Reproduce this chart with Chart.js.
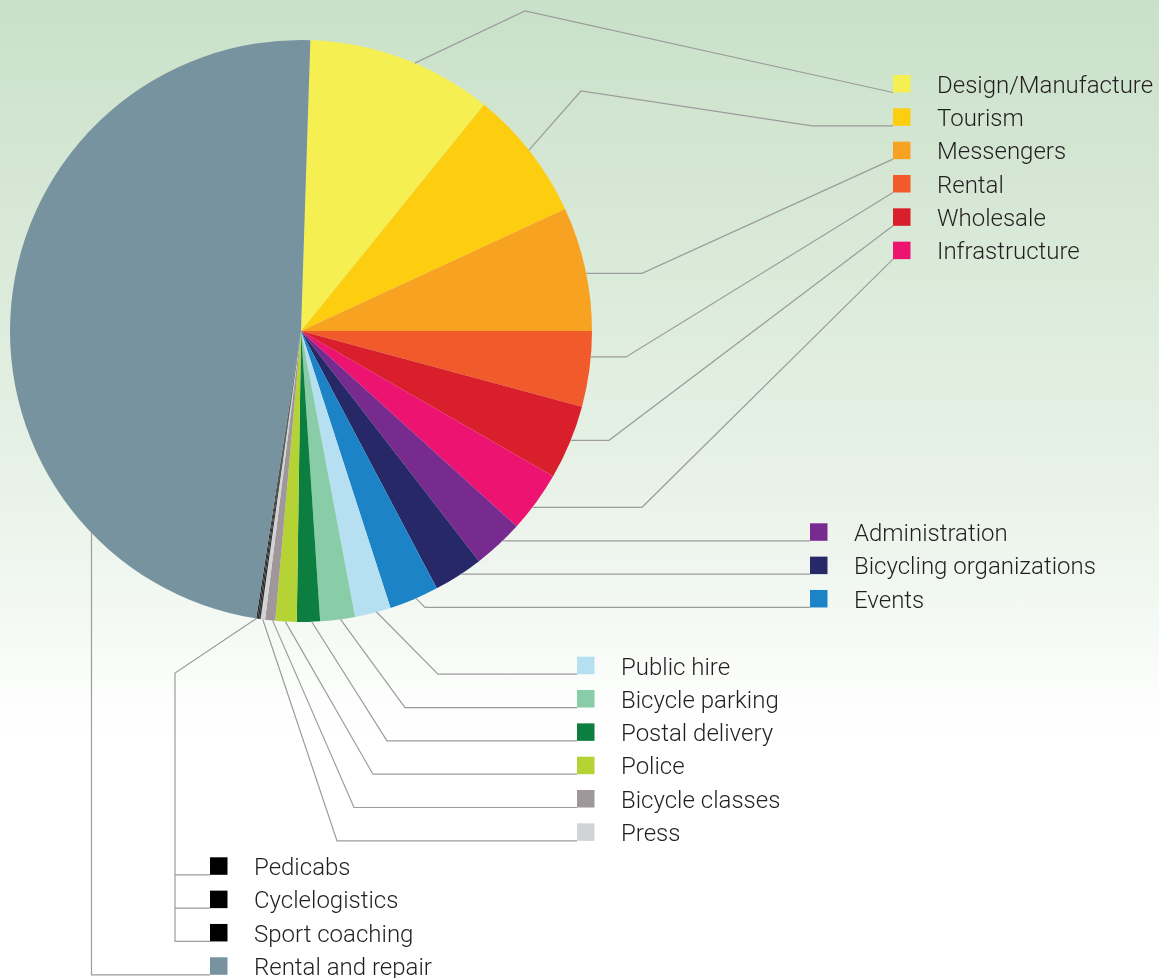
<!DOCTYPE html>
<html>
<head>
<meta charset="utf-8">
<script src="https://cdn.jsdelivr.net/npm/chart.js@4.4.1/dist/chart.umd.min.js"></script>
<style>
  html, body { margin:0; padding:0; }
  body {
    width:1159px; height:978px; overflow:hidden;
    background: linear-gradient(180deg, #c9e1c8 0%, #d3e6d2 15%, #ddecdc 32%, #e9f2e8 50%, #f3f8f3 62%, #fbfdfb 70%, #ffffff 76%, #ffffff 100%);
  }
  #wrap { position:absolute; left:0; top:0; width:1159px; height:978px; }
</style>
</head>
<body>
<div id="wrap"><canvas id="c" width="1159" height="978"></canvas></div>
<script>
// ---- data ----
const categories = [
  'Design/Manufacture', 'Tourism', 'Messengers', 'Rental', 'Wholesale', 'Infrastructure',
  'Administration', 'Bicycling organizations', 'Events',
  'Public hire', 'Bicycle parking', 'Postal delivery', 'Police', 'Bicycle classes', 'Press',
  'Pedicabs', 'Cyclelogistics', 'Sport coaching', 'Rental and repair'
];
const shares = [
  10.32, 7.28, 6.89, 4.19, 4.14, 3.39,
  2.81, 2.75, 2.75,
  2.00, 1.93, 1.28, 1.18, 0.56, 0.25,
  0.08, 0.08, 0.08, 48.06
];
const sliceColors = [
  '#f6ef52', '#fdcd0f', '#f7a221', '#f15a2b', '#d91f2b', '#ec1470',
  '#782b8f', '#262868', '#1c84c6',
  '#b7dff2', '#88cda8', '#0b7e40', '#b5d334', '#a0979a', '#d2d3d5',
  '#2a2a2c', '#2a2a2c', '#2a2a2c', '#77939f'
];
const legendColors = sliceColors.map(c => c === '#2a2a2c' ? '#000000' : c);

// ---- legend layout (groups of category indices) ----
const legendGroups = [
  { x: 893, top: 75,    items: [0, 1, 2, 3, 4, 5] },
  { x: 810, top: 523.3, items: [6, 7, 8] },
  { x: 577, top: 656.7, items: [9, 10, 11, 12, 13, 14] },
  { x: 210, top: 857.3, items: [15, 16, 17, 18] }
];
const ROW = 33.33, SQ = 17.5, TEXT_DX = 44;

// leader routing: f = anchor fraction inside the slice, via = bend points
// 'prev' = take coordinate from previous point, 'end' = from the legend end point
const leaderRoutes = {
  0:  { f: 0.57, via: [[525, 11]] },
  1:  { f: 0.48, via: [[581, 91], [812, 'end']] },
  2:  { f: 0.54, via: [[642, 'prev']] },
  3:  { f: 0.34, via: [[626, 'prev']] },
  4:  { f: 0.47, via: [[609, 'prev']] },
  5:  { f: 0.60, via: [[642, 'prev']] },
  6:  { h: true, via: [] },
  7:  { h: true, via: [] },
  8:  { f: 0.46, via: [[425, 'end']] },
  9:  { f: 0.40, via: [[438, 'end']] },
  10: { f: 0.42, via: [[405, 'end']] },
  11: { f: 0.36, via: [[387, 'end']] },
  12: { f: 0.53, via: [[373, 'end']] },
  13: { f: 0.25, via: [[354, 'end']] },
  14: { f: 0.50, via: [[337, 'end']] },
  15: { branchX: 175 },
  16: { branchX: 175 },
  17: { f: 0.9, via: [[175, 673], [175, 'end']] },
  18: { f: 0.215, via: [['prev', 'end']] }
};

const legendPos = {};
legendGroups.forEach(g => g.items.forEach((idx, k) => {
  legendPos[idx] = { x: g.x, y: g.top + k * ROW };
}));

const leaderPlugin = {
  id: 'leaders',
  afterDatasetsDraw(chart) {
    const ctx = chart.ctx;
    const meta = chart.getDatasetMeta(0);
    ctx.save();
    ctx.strokeStyle = '#9c9c9c';
    ctx.lineWidth = 1.2;
    meta.data.forEach((arc, i) => {
      const p = arc.getProps(['x', 'y', 'startAngle', 'endAngle', 'outerRadius'], true);
      const route = leaderRoutes[i];
      const lp = legendPos[i];
      const end = [lp.x, lp.y + SQ];
      let pts;
      if (route.branchX !== undefined) {
        pts = [[route.branchX, end[1]], end];
      } else {
        let start;
        if (route.h) {
          const dy = end[1] - p.y;
          start = [p.x + Math.sqrt(p.outerRadius * p.outerRadius - dy * dy), end[1]];
        } else {
          const a = p.startAngle + route.f * (p.endAngle - p.startAngle);
          start = [p.x + p.outerRadius * Math.cos(a), p.y + p.outerRadius * Math.sin(a)];
        }
        pts = [start];
        route.via.forEach(v => {
          const prev = pts[pts.length - 1];
          const px = v[0] === 'prev' ? prev[0] : v[0] === 'end' ? end[0] : v[0];
          const py = v[1] === 'prev' ? prev[1] : v[1] === 'end' ? end[1] : v[1];
          pts.push([px, py]);
        });
        pts.push(end);
      }
      ctx.beginPath();
      pts.forEach((pt, k) => k ? ctx.lineTo(pt[0], pt[1]) : ctx.moveTo(pt[0], pt[1]));
      ctx.stroke();
    });
    ctx.font = '300 24px Roboto, "Open Sans", sans-serif';
    ctx.textBaseline = 'alphabetic';
    ctx.textAlign = 'left';
    categories.forEach((name, i) => {
      const lp = legendPos[i];
      ctx.fillStyle = legendColors[i];
      ctx.fillRect(lp.x, lp.y, SQ, SQ);
      ctx.fillStyle = '#231f20';
      ctx.fillText(name, lp.x + TEXT_DX, lp.y + SQ + 0.3);
    });
    ctx.restore();
  }
};

new Chart(document.getElementById('c'), {
  type: 'pie',
  data: {
    labels: categories,
    datasets: [{
      data: shares,
      backgroundColor: sliceColors,
      borderWidth: 0,
      hoverOffset: 0
    }]
  },
  options: {
    responsive: false,
    animation: false,
    rotation: 1.84,
    layout: { padding: { left: 10, top: 40, right: 567, bottom: 356 } },
    plugins: { legend: { display: false }, tooltip: { enabled: false } },
    events: []
  },
  plugins: [leaderPlugin]
});
</script>
</body>
</html>
